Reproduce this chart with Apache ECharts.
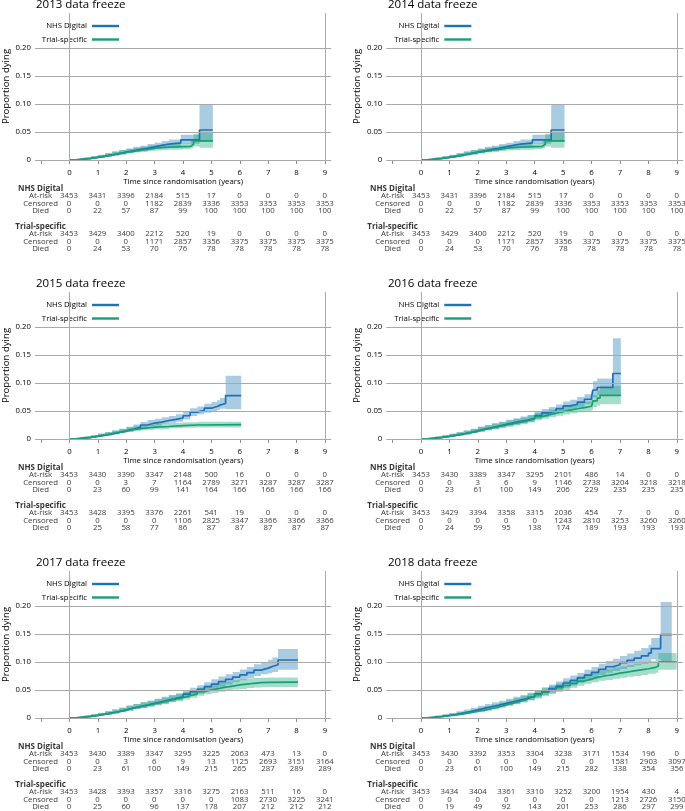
<!DOCTYPE html>
<html><head><meta charset="utf-8">
<script src="https://cdn.jsdelivr.net/npm/echarts@6/dist/echarts.min.js"></script>
<style>html,body{margin:0;padding:0;background:#fff}#c{width:685px;height:811px}</style>
</head><body><div id="c"></div>
<script>
// ---------------- DATA ----------------
const titles = ['2013 data freeze','2014 data freeze','2015 data freeze','2016 data freeze','2017 data freeze','2018 data freeze'];
const seriesNames = ['NHS Digital','Trial-specific'];
const years = [0,1,2,3,4,5,6,7,8,9];
const tickYears = [-1,0,1,2,3,4,5,6,7,8,9];
const yTicks = [0,0.05,0.10,0.15,0.20];
const rowLabels = ['At-risk','Censored','Died'];

// curve rows: [time, estimate, lower CI, upper CI]
const nhs2013 = [[0,0,0,0],[0.25,.0015,.0005,.0025],[0.5,.003,.0015,.0045],[0.75,.0048,.003,.0066],[1,.0066,.0042,.009],[1.25,.009,.006,.012],[1.5,.0115,.008,.015],[1.75,.014,.010,.018],[2,.0165,.0125,.0205],[2.25,.019,.0145,.0235],[2.5,.021,.0165,.0255],[2.75,.0235,.0185,.0285],[3,.026,.021,.031],[3.25,.0285,.023,.034],[3.5,.0305,.0245,.0365],[3.92,.036,.029,.045],[4.58,.0536,.032,.10],[5.05,.0536,.032,.10]];
const trial2013 = [[0,0,0,0],[0.25,.0015,.0005,.0025],[0.5,.003,.0015,.0045],[0.75,.0048,.003,.0066],[1,.007,.0045,.0095],[1.25,.009,.006,.012],[1.5,.0115,.008,.015],[1.75,.0135,.0098,.0172],[2,.0155,.0115,.0195],[2.25,.0175,.0132,.0218],[2.5,.019,.0145,.0235],[2.75,.021,.016,.026],[3,.022,.017,.027],[3.25,.023,.018,.028],[3.5,.0235,.0183,.0287],[3.75,.024,.0185,.0295],[4,.0245,.019,.030],[4.27,.028,.021,.036],[4.37,.034,.024,.047],[4.58,.034,.022,.05],[5.05,.034,.022,.05]];
const nhs2014 = [[0,0,0,0],[0.25,.0015,.0005,.0025],[0.5,.003,.0015,.0045],[0.75,.0048,.003,.0066],[1,.0066,.0042,.009],[1.25,.009,.006,.012],[1.5,.0115,.008,.015],[1.75,.014,.010,.018],[2,.0165,.0125,.0205],[2.25,.019,.0145,.0235],[2.5,.021,.0165,.0255],[2.75,.0235,.0185,.0285],[3,.026,.021,.031],[3.25,.0285,.023,.034],[3.5,.0305,.0245,.0365],[3.92,.036,.029,.045],[4.58,.0536,.032,.10],[5.05,.0536,.032,.10]];
const trial2014 = [[0,0,0,0],[0.25,.0015,.0005,.0025],[0.5,.003,.0015,.0045],[0.75,.0048,.003,.0066],[1,.007,.0045,.0095],[1.25,.009,.006,.012],[1.5,.0115,.008,.015],[1.75,.0135,.0098,.0172],[2,.0155,.0115,.0195],[2.25,.0175,.0132,.0218],[2.5,.019,.0145,.0235],[2.75,.021,.016,.026],[3,.022,.017,.027],[3.25,.023,.018,.028],[3.5,.0235,.0183,.0287],[3.75,.024,.0185,.0295],[4,.0245,.019,.030],[4.27,.028,.021,.036],[4.37,.034,.024,.047],[4.58,.034,.022,.05],[5.05,.034,.022,.05]];
const nhs2015 = [[0,0,0,0],[0.25,.0015,.0005,.0025],[0.5,.003,.0015,.0045],[0.75,.0048,.003,.0066],[1,.0068,.0044,.0092],[1.25,.009,.006,.012],[1.5,.0115,.008,.015],[1.75,.0145,.0105,.0185],[2,.0175,.013,.022],[2.25,.021,.016,.026],[2.5,.025,.0195,.0305],[2.75,.0285,.023,.034],[3,.030,.024,.036],[3.25,.033,.027,.039],[3.5,.035,.029,.041],[3.75,.0375,.031,.044],[4,.0415,.035,.048],[4.25,.048,.041,.055],[4.5,.051,.044,.058],[4.75,.055,.047,.063],[5,.058,.050,.066],[5.2,.0605,.052,.069],[5.3,.0635,.054,.073],[5.5,.0775,.053,.113],[6.05,.0775,.053,.113]];
const trial2015 = [[0,0,0,0],[0.25,.0015,.0005,.0025],[0.5,.003,.0015,.0045],[0.75,.005,.0032,.0068],[1,.0072,.0048,.0096],[1.25,.0095,.0067,.0123],[1.5,.012,.0088,.0152],[1.75,.0145,.011,.018],[2,.0168,.0128,.0208],[2.25,.0185,.0143,.0227],[2.5,.020,.0155,.0245],[2.75,.0213,.0166,.026],[3,.0223,.0175,.0271],[3.5,.024,.019,.029],[4,.025,.020,.030],[4.5,.0257,.0207,.031],[6.05,.0257,.0207,.031]];
const nhs2016 = [[0,0,0,0],[0.25,.0015,.0005,.0025],[0.5,.003,.0015,.0045],[0.75,.0048,.003,.0066],[1,.0068,.0044,.0092],[1.25,.009,.006,.012],[1.5,.0115,.008,.015],[1.75,.0145,.0105,.0185],[2,.0178,.0135,.0221],[2.25,.0205,.016,.025],[2.5,.023,.018,.028],[2.75,.026,.021,.031],[3,.029,.0235,.0345],[3.25,.0315,.026,.037],[3.5,.034,.028,.040],[3.75,.037,.031,.043],[4,.042,.0355,.0485],[4.25,.0465,.0395,.0535],[4.5,.050,.043,.057],[4.75,.054,.0465,.0615],[5,.059,.051,.067],[5.25,.062,.054,.070],[5.5,.066,.057,.075],[5.75,.071,.062,.080],[6,.0755,.066,.087],[6.05,.0875,.074,.103],[6.2,.092,.078,.108],[6.75,.117,.077,.18],[7.03,.117,.077,.18]];
const trial2016 = [[0,0,0,0],[0.25,.0015,.0005,.0025],[0.5,.003,.0015,.0045],[0.75,.0048,.003,.0066],[1,.007,.0045,.0095],[1.25,.009,.006,.012],[1.5,.0115,.008,.015],[1.75,.014,.0102,.0178],[2,.0171,.0128,.0214],[2.25,.020,.0153,.0247],[2.5,.0225,.0175,.0275],[2.75,.025,.0197,.0303],[3,.0275,.022,.033],[3.25,.030,.0243,.0357],[3.5,.0325,.0265,.0385],[3.75,.036,.0296,.0424],[4,.040,.0333,.0467],[4.25,.043,.036,.050],[4.5,.046,.0388,.0532],[4.75,.049,.0415,.0565],[5,.0515,.0438,.0592],[5.25,.054,.046,.062],[5.5,.056,.0478,.0642],[5.75,.0585,.050,.067],[6,.061,.052,.070],[6.05,.068,.057,.079],[6.2,.073,.060,.086],[6.3,.078,.062,.095],[7.03,.078,.062,.095]];
const nhs2017 = [[0,0,0,0],[0.25,.0015,.0005,.0025],[0.5,.003,.0015,.0045],[0.75,.0048,.003,.0066],[1,.0067,.0043,.0091],[1.25,.009,.006,.012],[1.5,.0115,.008,.015],[1.75,.0145,.0105,.0185],[2,.0178,.0135,.0221],[2.25,.0205,.016,.025],[2.5,.023,.018,.028],[2.75,.026,.021,.031],[3,.029,.0235,.0345],[3.25,.032,.026,.038],[3.5,.035,.029,.041],[3.75,.038,.0318,.0442],[4,.0425,.0358,.0492],[4.25,.047,.040,.054],[4.5,.051,.0435,.0585],[4.75,.056,.048,.064],[5,.0605,.052,.069],[5.25,.065,.056,.074],[5.5,.069,.060,.078],[5.75,.073,.064,.082],[6,.077,.0675,.0865],[6.25,.081,.071,.091],[6.5,.0855,.075,.096],[6.75,.089,.078,.100],[7,.092,.080,.104],[7.15,.095,.082,.108],[7.35,.1036,.086,.123],[8.05,.1036,.086,.123]];
const trial2017 = [[0,0,0,0],[0.25,.0015,.0005,.0025],[0.5,.003,.0015,.0045],[0.75,.0048,.003,.0066],[1,.007,.0045,.0095],[1.25,.009,.006,.012],[1.5,.0115,.008,.015],[1.75,.0143,.0104,.0182],[2,.0174,.0131,.0217],[2.25,.0203,.0157,.0249],[2.5,.023,.018,.028],[2.75,.0255,.0203,.0307],[3,.028,.0225,.0335],[3.25,.031,.0252,.0368],[3.5,.034,.028,.040],[3.75,.0365,.030,.043],[4,.0397,.033,.0464],[4.25,.043,.036,.050],[4.5,.047,.0398,.0542],[4.75,.050,.0425,.0575],[5,.0525,.0448,.0602],[5.25,.055,.047,.063],[5.5,.057,.049,.065],[5.75,.059,.0508,.0672],[6,.0605,.052,.069],[6.25,.062,.0535,.0705],[6.5,.063,.0545,.0715],[6.75,.0635,.055,.072],[7,.064,.0555,.0725],[8.05,.064,.0555,.0725]];
const nhs2018 = [[0,0,0,0],[0.25,.0015,.0005,.0025],[0.5,.003,.0015,.0045],[0.75,.0048,.003,.0066],[1,.0067,.0043,.0091],[1.25,.009,.006,.012],[1.5,.0115,.008,.015],[1.75,.0145,.0105,.0185],[2,.0177,.0134,.022],[2.25,.0205,.016,.025],[2.5,.023,.018,.028],[2.75,.026,.021,.031],[3,.029,.0235,.0345],[3.25,.032,.026,.038],[3.5,.035,.029,.041],[3.75,.0385,.032,.045],[4,.0433,.0365,.050],[4.25,.048,.041,.055],[4.5,.0525,.045,.060],[4.75,.057,.049,.065],[5,.0625,.054,.071],[5.25,.067,.058,.076],[5.5,.0715,.0625,.0805],[5.75,.0765,.067,.086],[6,.0815,.072,.091],[6.25,.087,.077,.097],[6.5,.0915,.081,.102],[6.75,.095,.084,.106],[7,.099,.0875,.1105],[7.25,.103,.091,.115],[7.5,.107,.094,.120],[7.75,.111,.097,.125],[8,.116,.101,.131],[8.1,.124,.105,.143],[8.43,.149,.10,.207],[8.82,.149,.10,.207]];
const trial2018 = [[0,0,0,0],[0.25,.0013,.0004,.0022],[0.5,.0026,.0013,.0039],[0.75,.004,.0024,.0056],[1,.0055,.0033,.0077],[1.25,.0075,.005,.010],[1.5,.0097,.0068,.0126],[1.75,.012,.0088,.0152],[2,.0142,.0106,.0178],[2.25,.017,.013,.021],[2.5,.0197,.0154,.024],[2.75,.0232,.0185,.0279],[3,.0266,.0213,.0319],[3.25,.030,.0245,.0355],[3.5,.0335,.0277,.0393],[3.75,.0375,.0314,.0436],[4,.0415,.035,.048],[4.25,.046,.039,.053],[4.5,.050,.0428,.0572],[4.75,.054,.0465,.0615],[5,.058,.050,.066],[5.25,.062,.054,.070],[5.5,.066,.0575,.0745],[5.75,.0695,.061,.078],[6,.073,.064,.082],[6.25,.0755,.0665,.0845],[6.5,.0775,.068,.087],[6.75,.080,.070,.090],[7,.082,.072,.092],[7.25,.084,.0735,.0945],[7.5,.086,.075,.097],[7.75,.088,.077,.099],[8,.0905,.079,.102],[8.25,.093,.081,.105],[8.35,.100,.086,.116],[8.99,.100,.088,.116]];

// number-at-risk tables: [At-risk, Censored, Died] at years 0..9
const nhsTable2013 = [[3453,3431,3396,2184,515,17,0,0,0,0],[0,0,0,1182,2839,3336,3353,3353,3353,3353],[0,22,57,87,99,100,100,100,100,100]];
const trialTable2013 = [[3453,3429,3400,2212,520,19,0,0,0,0],[0,0,0,1171,2857,3356,3375,3375,3375,3375],[0,24,53,70,76,78,78,78,78,78]];
const nhsTable2014 = [[3453,3431,3396,2184,515,17,0,0,0,0],[0,0,0,1182,2839,3336,3353,3353,3353,3353],[0,22,57,87,99,100,100,100,100,100]];
const trialTable2014 = [[3453,3429,3400,2212,520,19,0,0,0,0],[0,0,0,1171,2857,3356,3375,3375,3375,3375],[0,24,53,70,76,78,78,78,78,78]];
const nhsTable2015 = [[3453,3430,3390,3347,2148,500,16,0,0,0],[0,0,3,7,1164,2789,3271,3287,3287,3287],[0,23,60,99,141,164,166,166,166,166]];
const trialTable2015 = [[3453,3428,3395,3376,2261,541,19,0,0,0],[0,0,0,0,1106,2825,3347,3366,3366,3366],[0,25,58,77,86,87,87,87,87,87]];
const nhsTable2016 = [[3453,3430,3389,3347,3295,2101,486,14,0,0],[0,0,3,6,9,1146,2738,3204,3218,3218],[0,23,61,100,149,206,229,235,235,235]];
const trialTable2016 = [[3453,3429,3394,3358,3315,2036,454,7,0,0],[0,0,0,0,0,1243,2810,3253,3260,3260],[0,24,59,95,138,174,189,193,193,193]];
const nhsTable2017 = [[3453,3430,3389,3347,3295,3225,2063,473,13,0],[0,0,3,6,9,13,1125,2693,3151,3164],[0,23,61,100,149,215,265,287,289,289]];
const trialTable2017 = [[3453,3428,3393,3357,3316,3275,2163,511,16,0],[0,0,0,0,0,0,1083,2730,3225,3241],[0,25,60,96,137,178,207,212,212,212]];
const nhsTable2018 = [[3453,3430,3392,3353,3304,3238,3171,1534,196,0],[0,0,0,0,0,0,0,1581,2903,3097],[0,23,61,100,149,215,282,338,354,356]];
const trialTable2018 = [[3453,3434,3404,3361,3310,3252,3200,1954,430,4],[0,0,0,0,0,0,0,1213,2726,3150],[0,19,49,92,143,201,253,286,297,299]];

// ---------------- LAYOUT / STYLE ----------------
const panels = [
  {nhs:nhs2013, trial:trial2013, nt:nhsTable2013, tt:trialTable2013},
  {nhs:nhs2014, trial:trial2014, nt:nhsTable2014, tt:trialTable2014},
  {nhs:nhs2015, trial:trial2015, nt:nhsTable2015, tt:trialTable2015},
  {nhs:nhs2016, trial:trial2016, nt:nhsTable2016, tt:trialTable2016},
  {nhs:nhs2017, trial:trial2017, nt:nhsTable2017, tt:trialTable2017},
  {nhs:nhs2018, trial:trial2018, nt:nhsTable2018, tt:trialTable2018}
];
const FONT = "'Open Sans', sans-serif";
const TXT = '#000';
const GRIDC = '#a9a9a9';
const BLUE = '#1f72b6', GREEN = '#17a077';
const BLUE_BAND = 'rgba(31,120,182,0.38)', GREEN_BAND = 'rgba(20,165,115,0.38)';
const X_MIN = -1.22, X_MAX = 9.22, Y_MAX = 0.2625;
const colLeft = [34.3, 386.3], colRight = [353.9, 1.9];
const rowZero = [160, 439, 718];
const PLOT_H = 147;
const legendRight = [560, 207.7];
const titleLeft = [36, 388];
const titleMid = [5, 284, 563];
const TAB_OFF = 28.3, TAB_UNIT = 7.5;
const nhsRows = [1,2,3], trialRows = [6.1,7.1,8.1], hdrRows = [0,5.1];

const grid=[], xAxis=[], yAxis=[], series=[], legend=[], title=[];

function bandRenderer(rows, color){
  return function(params, api){
    if (params.dataIndex !== 0) return null;
    const up=[], lo=[];
    for (let i=0;i<rows.length-1;i++){
      up.push(api.coord([rows[i][0], rows[i][3]]));
      up.push(api.coord([rows[i+1][0], rows[i][3]]));
      lo.push(api.coord([rows[i][0], rows[i][2]]));
      lo.push(api.coord([rows[i+1][0], rows[i][2]]));
    }
    return {type:'polygon', shape:{points: up.concat(lo.reverse())}, style:{fill: color}};
  };
}

panels.forEach((p, i) => {
  const col = i % 2, row = Math.floor(i / 2);
  const zero = rowZero[row];
  const gi = grid.length;
  grid.push({left: colLeft[col], right: colRight[col], top: zero - PLOT_H, height: PLOT_H});
  grid.push({left: colLeft[col], right: colRight[col], top: zero + TAB_OFF, height: 8.1 * TAB_UNIT});
  xAxis.push({
    gridIndex: gi, type:'value', min:X_MIN, max:X_MAX, offset: 2,
    axisLine:{show:false}, splitLine:{show:false},
    axisTick:{show:true, customValues: tickYears, length:4, lineStyle:{color:'#8f8f8f', width:1}},
    axisLabel:{show:true, customValues: years, margin:7, fontSize:7.8, color:TXT, fontFamily:FONT},
    name:'Time since randomisation (years)', nameLocation:'middle', nameGap:15,
    nameTextStyle:{fontSize:7.8, color:TXT, fontFamily:FONT}
  });
  xAxis.push({gridIndex: gi+1, type:'value', min:X_MIN, max:X_MAX, show:false});
  yAxis.push({
    gridIndex: gi, type:'value', min:0, max:Y_MAX,
    axisLine:{show:false}, splitLine:{show:false},
    axisTick:{show:true, customValues: yTicks, length:2, lineStyle:{color:'#8f8f8f'}},
    axisLabel:{show:true, customValues: yTicks, margin:4, fontSize:7.8, color:TXT, fontFamily:FONT,
      formatter: v => v === 0 ? '0' : v.toFixed(2)},
    name:'Proportion dying', nameLocation:'middle', nameGap:24,
    nameTextStyle:{fontSize:9.6, color:TXT, fontFamily:FONT}
  });
  yAxis.push({gridIndex: gi+1, type:'value', inverse:true, min:0, max:8.1, show:false});

  // grid lines
  series.push({
    type:'line', xAxisIndex: gi, yAxisIndex: gi, data: [], silent:true, z:1,
    markLine:{silent:true, symbol:'none', animation:false, label:{show:false},
      lineStyle:{color:GRIDC, width:1, type:'solid'},
      data: yTicks.map(v => ({yAxis:v})).concat([{xAxis:0},{xAxis:9}])}
  });
  // CI bands
  series.push({type:'custom', name:'NHS Digital CI', xAxisIndex: gi, yAxisIndex: gi, silent:true, z:2,
    data: p.nhs, renderItem: bandRenderer(p.nhs, BLUE_BAND)});
  series.push({type:'custom', name:'Trial-specific CI', xAxisIndex: gi, yAxisIndex: gi, silent:true, z:2,
    data: p.trial, renderItem: bandRenderer(p.trial, GREEN_BAND)});
  // KM lines
  series.push({type:'line', name:seriesNames[0], xAxisIndex: gi, yAxisIndex: gi, step:'end', symbol:'none', z:3,
    color: BLUE, lineStyle:{color:BLUE, width:1.7}, itemStyle:{color:BLUE}, data: p.nhs.map(r => [r[0], r[1]])});
  series.push({type:'line', name:seriesNames[1], xAxisIndex: gi, yAxisIndex: gi, step:'end', symbol:'none', z:3,
    color: GREEN, lineStyle:{color:GREEN, width:1.7}, itemStyle:{color:GREEN}, data: p.trial.map(r => [r[0], r[1]])});

  // table
  const cells = [];
  [[p.nt, nhsRows], [p.tt, trialRows]].forEach(([tab, rws]) => {
    tab.forEach((vals, r) => {
      cells.push({name: rowLabels[r], value: [-1, rws[r]]});
      vals.forEach((v, j) => cells.push({name: String(v), value: [years[j], rws[r]]}));
    });
  });
  series.push({type:'scatter', xAxisIndex: gi+1, yAxisIndex: gi+1, silent:true, symbolSize:0.01,
    label:{show:true, position:'inside', formatter:'{b}', fontSize:7.8, color:TXT, fontFamily:FONT},
    data: cells});
  series.push({type:'scatter', xAxisIndex: gi+1, yAxisIndex: gi+1, silent:true, symbolSize:0.01,
    label:{show:true, position:'inside', formatter:'{b}', fontSize:8, fontWeight:'bold', color:TXT, fontFamily:FONT},
    data: seriesNames.map((n, k) => ({name:n, value:[-1, hdrRows[k]]}))});

  legend.push({
    data: seriesNames, orient:'vertical', align:'right', icon:'rect', itemWidth:27, itemHeight:2.4, itemGap:3.5,
    right: legendRight[col], top: zero - PLOT_H, padding:[8,6,5,5], backgroundColor:'#fff',
    selectedMode:false,
    textStyle:{fontSize:7.8, lineHeight:10, color:TXT, fontFamily:FONT}
  });
  title.push({
    text: titles[i], left: titleLeft[col], top: titleMid[row] - 7, padding:0,
    textStyle:{fontSize:11.5, lineHeight:14, fontWeight:'normal', color:TXT, fontFamily:FONT}
  });
});

const chart = echarts.init(document.getElementById('c'), null, {renderer:'canvas'});
chart.setOption({animation:false, backgroundColor:'#fff', title, legend, grid, xAxis, yAxis, series});
</script></body></html>
